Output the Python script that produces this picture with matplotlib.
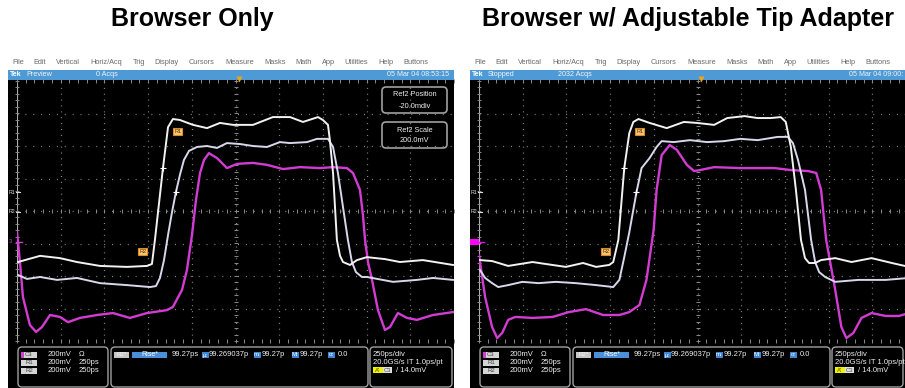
import matplotlib
matplotlib.use("Agg")  # headless
import matplotlib.pyplot as plt
import matplotlib.transforms as mtransforms
from matplotlib.patches import FancyBboxPatch, Rectangle
import numpy as np

# ── waveform data ─────────────────────────────────────────────────────────────
# time in ps (250 ps/div, 0 = screen centre), level in vertical divisions

# Browser only
ONLY_R1_T = [-1244, -1118, -1004, -907, -775, -621, -506, -478, -461, -415, -386,
             -358, -318, -243, -163, -89, -14, 100, 214, 312, 386, 472, 500, 529,
             540, 558, 580, 598, 615, 655, 695, 752, 855, 941, 1072, 1244]
ONLY_R1_V = [-1.57, -1.38, -1.45, -1.57, -1.69, -1.72, -1.69, -1.63, -0.89, 1.32, 2.58,
             2.83, 2.80, 2.65, 2.55, 2.71, 2.65, 2.65, 2.89, 2.89, 2.74, 2.89, 2.80, 2.65,
             2.18, 1.17, -0.89, -1.38, -1.57, -1.66, -1.51, -1.42, -1.48, -1.57, -1.51, -1.66]

ONLY_R2_T = [-1244, -1193, -1118, -1021, -907, -775, -621, -489, -455, -432, -409,
             -386, -363, -341, -318, -295, -266, -220, -163, -106, -49, 26, 100, 180,
             254, 312, 409, 466, 529, 558, 586, 615, 643, 666, 689, 723, 752, 901,
             1038, 1130, 1244]
ONLY_R2_V = [-1.97, -2.09, -2.03, -2.12, -2.06, -2.22, -2.28, -2.34, -2.31, -2.06, -1.51,
             -0.74, -0.03, 0.58, 1.11, 1.57, 1.85, 1.97, 2.00, 1.94, 2.09, 2.06, 2.00, 1.97,
             2.12, 2.09, 2.12, 2.22, 2.22, 1.97, 1.17, 0.12, -0.89, -1.57, -1.88, -2.03,
             -2.03, -2.18, -2.12, -2.06, -2.12]

ONLY_C3_T = [-1250, -1233, -1216, -1176, -1141, -1107, -1061, -1004, -958, -890, -792,
             -701, -604, -506, -392, -358, -306, -278, -249, -226, -203, -180, -152,
             -106, -49, 9, 100, 180, 272, 369, 483, 558, 638, 672, 712, 729, 741, 758,
             781, 815, 855, 884, 929, 981, 1038, 1130, 1244]
ONLY_C3_V = [-0.65, -1.57, -2.65, -3.51, -3.72, -3.57, -3.20, -3.26, -3.42, -3.29, -3.20,
             -3.14, -3.29, -3.14, -3.05, -2.95, -2.43, -1.82, -0.74, 0.34, 1.17, 1.57, 1.78,
             1.63, 1.32, 1.45, 1.48, 1.42, 1.29, 1.35, 1.32, 1.35, 1.32, 1.17, 0.65, -0.12,
             -0.89, -1.57, -2.12, -3.05, -3.66, -3.57, -3.14, -3.29, -3.35, -3.20, -3.11]

# Browser with adjustable tip adapter
TIP_R1_T = [-1244, -1175, -1083, -944, -869, -753, -655, -580, -505, -482, -453, -419,
            -390, -367, -338, -274, -176, -78, -3, 95, 170, 269, 344, 419, 476, 505,
            534, 563, 592, 615, 638, 673, 707, 788, 881, 996, 1112, 1210]
TIP_R1_V = [-1.51, -1.54, -1.69, -1.57, -1.63, -1.72, -1.60, -1.72, -1.66, -1.57, -0.89,
            1.32, 2.40, 2.74, 2.83, 2.71, 2.55, 2.74, 2.71, 2.65, 2.86, 2.92, 2.86, 2.86,
            2.89, 2.74, 1.97, 0.65, -0.89, -1.45, -1.60, -1.60, -1.51, -1.45, -1.57,
            -1.45, -1.60, -1.72]

TIP_R2_T = [-1244, -1215, -1175, -1140, -1083, -1002, -909, -811, -696, -580, -482,
            -447, -419, -390, -349, -320, -274, -234, -205, -136, -43, 55, 153, 245,
            344, 459, 517, 546, 575, 615, 650, 673, 696, 730, 788, 921, 1077, 1210]
TIP_R2_V = [-1.82, -2.06, -2.22, -2.34, -2.28, -2.18, -2.22, -2.18, -2.22, -2.28, -2.34,
            -2.12, -1.42, -0.65, 0.58, 1.32, 1.63, 1.97, 2.15, 2.12, 2.18, 2.12, 2.15,
            2.22, 2.18, 2.28, 2.28, 2.09, 1.57, 0.65, -0.89, -1.57, -1.88, -2.03, -2.18,
            -2.12, -2.12, -2.06]

TIP_C3_T = [-1250, -1215, -1175, -1146, -1117, -1083, -1042, -944, -829, -736, -638,
            -540, -447, -390, -332, -292, -251, -234, -205, -159, -118, -61, -20, 15,
            95, 245, 442, 534, 632, 679, 707, 736, 788, 823, 852, 892, 938, 996, 1077,
            1152, 1210]
TIP_C3_V = [-1.35, -2.65, -3.57, -3.91, -3.75, -3.35, -3.26, -3.29, -3.26, -3.11, -3.02,
            -3.20, -3.20, -3.11, -2.89, -2.12, -0.58, 0.65, 1.72, 2.03, 1.88, 1.42, 1.23,
            1.26, 1.35, 1.32, 1.32, 1.26, 1.23, 1.17, 0.65, -0.89, -2.43, -3.57, -3.91,
            -3.75, -3.29, -3.14, -3.23, -3.23, -3.14]

# rise-time cursor crossings (R1, R2) and label anchors
ONLY_CURSOR_T = [-415, -341]
TIP_CURSOR_T = [-419, -349]
CURSOR_V = [1.32, 0.58]
ONLY_LABEL_T = [-330, -532]
TIP_LABEL_T = [-330, -526]
LABEL_V = [2.45, -1.26]
LABEL_TEXT = ["R1", "R2"]

REF_LEVELS = [0.58, -0.03]
CH3_LEVEL = -0.95
TRIG_T = 20

TITLES = ["Browser Only", "Browser w/ Adjustable Tip Adapter"]
STATUS = ["Preview", "Stopped"]
ACQS = ["0 Acqs", "2032 Acqs"]
STAMPS = ["05 Mar 04 08:53:15", "05 Mar 04 09:00:"]

MENU = ["File", "Edit", "Vertical", "Horiz/Acq", "Trig", "Display", "Cursors",
        "Measure", "Masks", "Math", "App", "Utilities", "Help", "Buttons"]

SRC_LABELS = ["C3", "R1", "R2"]
SRC_SCALE = ["200mV", "200mV", "200mV"]
SRC_EXTRA = ["\u03a9", "250ps", "250ps"]

STAT_LABELS = ["\u03bc:", "m:", "M:", "\u03c3:"]
STAT_VALUES = ["99.269037p", "99.27p", "99.27p", "0.0"]
RISE_VALUE = "99.27ps"

# ── styling ───────────────────────────────────────────────────────────────────
W, H = 905, 388
FONT = ["Liberation Sans", "DejaVu Sans"]
GRID = "#8a8a8a"
WHITE1 = "#f2f2f2"
WHITE2 = "#d8d8ec"
MAGENTA = "#d23cd2"
PANEL_EDGE = "#a0a0a0"
BAR_BLUE = "#4d9ad6"
TXT = "#eeeeee"

fig = plt.figure(figsize=(W / 100, H / 100), dpi=100, facecolor="white")
base = fig.add_axes([0, 0, 1, 1])
base.set_xlim(0, W)
base.set_ylim(H, 0)
base.axis("off")


def fig_rect(x, y, w, h):
    return [x / W, 1 - (y + h) / H, w / W, h / H]


def rbox(x0, y0, x1, y1, r=4, lw=1.0):
    base.add_patch(FancyBboxPatch((x0, y0), x1 - x0, y1 - y0,
                                  boxstyle=f"round,pad=0,rounding_size={r}",
                                  fc="black", ec=PANEL_EDGE, lw=lw, zorder=2))


def label_box(x0, y, w, text, fc, tc, fs=4.3):
    base.add_patch(Rectangle((x0, y - 3.2), w, 6.4, fc=fc, ec="none", zorder=3))
    base.text(x0 + w / 2, y, text, fontsize=fs, color=tc, ha="center",
              va="center", family=FONT, zorder=4)


def small(x, y, s, ha="left", color=TXT, fs=5.5, weight="normal"):
    base.text(x, y, s, fontsize=fs, color=color, ha=ha, va="center",
              family=FONT, weight=weight, zorder=4)


def draw_chrome(ox, idx):
    menu_x = [4, 25, 48, 82, 125, 146, 181, 217, 256, 287, 314, 336, 370, 395]
    for name, mx in zip(MENU, menu_x):
        small(ox + mx, 63, name, color="#6a6a6a", fs=5.3)

    # screen body and status bar
    base.add_patch(Rectangle((ox, 79), 446, H - 79, fc="black", ec="none", zorder=1))
    base.add_patch(Rectangle((ox, 70), 446, 9.5, fc=BAR_BLUE, ec="none", zorder=1))
    small(ox + 2, 74.5, "Tek", color="white", fs=5.0, weight="bold")
    small(ox + 18, 74.5, STATUS[idx], color="#f4f4f4", fs=5.2)
    small(ox + 88, 74.5, ACQS[idx], color="#f4f4f4", fs=5.2)
    small(ox + 379, 74.5, STAMPS[idx], color="#f4f4f4", fs=5.1)

    # readout panels
    rbox(ox + 10, 347, ox + 100, 387)
    rbox(ox + 103, 347, ox + 360, 387)
    rbox(ox + 362, 347, min(ox + 444, W - 2), 387)

    rows = [355, 363, 371]
    for y, lab, sc, ex in zip(rows, SRC_LABELS, SRC_SCALE, SRC_EXTRA):
        label_box(ox + 13, y, 16, lab, "#d4d4d4", "#404040")
        small(ox + 40, y, sc)
        small(ox + 71, y, ex)
    base.add_patch(Rectangle((ox + 13, rows[0] - 3.2), 3, 6.4, fc=MAGENTA,
                             ec="none", zorder=5))

    label_box(ox + 106, 355, 15, "R2*", "#c8c8c8", "#f8f8f8")
    label_box(ox + 124, 355, 35, "Rise*", "#4a8fd8", "white", fs=5.0)
    small(ox + 164, 355, RISE_VALUE)
    for lab, val, lx, vx in zip(STAT_LABELS, STAT_VALUES,
                                [194, 246, 284, 320], [201, 254, 292, 330]):
        label_box(ox + lx, 355, 6.5, lab, "#3f86d2", "white", fs=4.3)
        small(ox + vx, 355, val)

    small(ox + 365, 354, "250ps/div")
    small(ox + 365, 362, "20.0GS/s IT 1.0ps/pt")
    label_box(ox + 365, 370, 10, "A'", "#f2f200", "#505000")
    label_box(ox + 375, 370, 9, "C3", "#e0e0e0", "#505050")
    small(ox + 388, 370.5, "/ 14.0mV")


def draw_graticule(ax):
    ax.set_xlim(-1250, 1250)
    ax.set_ylim(-4, 4)
    ax.axis("off")
    for t in np.arange(-1000, 1001, 250):
        ax.axvline(t, color=GRID, lw=0.9, ls=(0, (0.8, 3.9)), zorder=1)
    for v in np.arange(-3, 4, 1):
        ax.axhline(v, color=GRID, lw=0.9, ls=(0, (0.8, 5.5)), zorder=1)
    ax.axvline(-1250, color="#b0b0b0", lw=0.8, zorder=1)
    minor_t = np.arange(-1250, 1251, 50)
    minor_v = np.arange(-4, 4.01, 0.2)
    for yv in (4, -4, 0):
        ax.plot(minor_t, np.full(minor_t.size, yv), ls="none", marker="|",
                ms=2.6, mew=0.7, color=GRID, clip_on=False, zorder=1)
    for tv in (-1250, 0):
        ax.plot(np.full(minor_v.size, tv), minor_v, ls="none", marker="_",
                ms=2.6, mew=0.7, color=GRID, clip_on=False, zorder=1)


def draw_markers(ax, cursor_t, label_t, ch3_box):
    side = mtransforms.blended_transform_factory(ax.transAxes, ax.transData)
    for lvl, name in zip(REF_LEVELS, LABEL_TEXT):
        ax.text(-0.004, lvl, name, transform=side, ha="right", va="center",
                fontsize=3.8, color="#dcdcdc", family=FONT, clip_on=False)
        ax.plot([-0.003, 0.008], [lvl, lvl], transform=side, color="#dcdcdc",
                lw=0.8, clip_on=False)
    if ch3_box:
        ax.add_patch(Rectangle((-0.021, CH3_LEVEL - 0.1), 0.021, 0.2,
                               transform=side, fc="#ff00ff", ec="none",
                               clip_on=False))
        ax.plot([0, 0.012], [CH3_LEVEL, CH3_LEVEL], transform=side,
                color="#ff00ff", lw=1.0, clip_on=False)
    else:
        ax.text(-0.012, CH3_LEVEL, "3", transform=side, ha="right", va="center",
                fontsize=4.2, color=MAGENTA, family=FONT, clip_on=False)
        ax.plot([-0.002, 0.012], [CH3_LEVEL, CH3_LEVEL], transform=side,
                color=MAGENTA, lw=1.0, clip_on=False)

    ax.plot(cursor_t, CURSOR_V, ls="none", marker="+", ms=4, mew=0.8,
            color="white", zorder=6)
    for t, v, s in zip(label_t, LABEL_V, LABEL_TEXT):
        ax.text(t, v, s, fontsize=4.0, color="#4a2c00", ha="center", va="center",
                family=FONT, zorder=7,
                bbox=dict(boxstyle="square,pad=0.18", fc="#f3c77a",
                          ec="#e28a1c", lw=0.8))
    ax.plot([TRIG_T], [4.05], ls="none", marker="v", ms=4.5, color="#f0a410",
            mec="none", clip_on=False, zorder=8)


SCREENS = [
    (8, (ONLY_R1_T, ONLY_R1_V), (ONLY_R2_T, ONLY_R2_V), (ONLY_C3_T, ONLY_C3_V),
     ONLY_CURSOR_T, ONLY_LABEL_T, False),
    (470, (TIP_R1_T, TIP_R1_V), (TIP_R2_T, TIP_R2_V), (TIP_C3_T, TIP_C3_V),
     TIP_CURSOR_T, TIP_LABEL_T, True),
]

for i, (ox, r1, r2, c3, cur_t, lab_t, box3) in enumerate(SCREENS):
    draw_chrome(ox, i)
    ax = fig.add_axes(fig_rect(ox + 9, 81, 437, 260))
    draw_graticule(ax)
    ax.plot(*c3, color=MAGENTA, lw=1.7, solid_joinstyle="round", zorder=3)
    ax.plot(*r2, color=WHITE2, lw=1.4, solid_joinstyle="round", zorder=4)
    ax.plot(*r1, color=WHITE1, lw=1.4, solid_joinstyle="round", zorder=5)
    draw_markers(ax, cur_t, lab_t, box3)

# the left-hand Ref2 position / scale readouts
ox = 8
for y0, head, val in [(87, "Ref2 Position", "-20.0mdiv"), (122, "Ref2 Scale", "200.0mV")]:
    rbox(ox + 374, y0, ox + 439, y0 + 26, r=4, lw=1.2)
    small(ox + 406.5, y0 + 8, head, ha="center", fs=5.3)
    small(ox + 406.5, y0 + 19, val, ha="center", fs=5.3)

base.text(192, 19, TITLES[0], fontsize=18, weight="bold", ha="center",
          va="center", family=FONT, color="black")
base.text(688, 19, TITLES[1], fontsize=18, weight="bold", ha="center",
          va="center", family=FONT, color="black")

fig.savefig("out.png", dpi=100, facecolor="white")
